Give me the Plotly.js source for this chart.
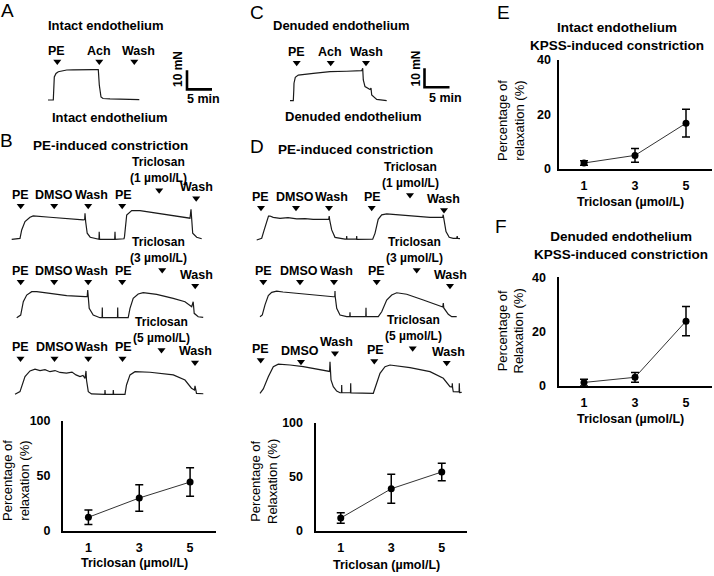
<!DOCTYPE html>
<html>
<head>
<meta charset="utf-8">
<script src="https://cdn.plot.ly/plotly-3.0.1.min.js"></script>
<style>
body { margin: 0; background: #fff; }
#fig { width: 714px; height: 576px; }
</style>
</head>
<body>
<div id="fig"></div>
<script>
'use strict';

// ---- data ----
// myograph recordings: time (min) and force (mN) relative to baseline
var aTime = [0, 0.9, 1.06, 1.26, 1.6, 2.06, 3.74, 5.0, 7.0, 9.0, 10.06, 10.26, 10.6, 11.0, 12.4, 15.4, 18.26];
var aForce = [0, 0, 0, 12.1, 14.0, 14.9, 15.8, 15.9, 16.1, 16.0, 16.0, 7.9, 1.6, 0.8, 0.6, 0.4, 0.2];
var aEvents = ['PE', 'Ach', 'Wash'];
var aEventTime = [1.86, 10.26, 17.26];

var cTime = [0, 0.66, 0.76, 0.8, 1.06, 1.66, 4.66, 6.4, 8.0, 11.34, 14.34, 14.54, 14.66, 15.0, 15.66, 16.0, 16.2, 16.34, 17.34, 19.34];
var cForce = [0, 0, 5.6, 9.2, 12.3, 13.5, 14.4, 14.8, 15.3, 15.5, 15.8, 17.1, 10.9, 7.4, 6.5, 5.9, 6.7, 3.0, 0.7, 0];
var cEvents = ['PE', 'Ach', 'Wash'];
var cEventTime = [1.34, 8.14, 15.2];

var b1Time = [0, 1.66, 2.0, 2.66, 3.66, 4.3, 7.66, 11.0, 14.3, 14.6, 14.66, 14.8, 15.1, 15.7, 17.0, 17.46, 17.5, 17.58, 20.6, 20.66, 20.72, 22.46, 22.56, 23.0, 24.0, 25.66, 31.0, 35.66, 35.86, 35.96, 36.2, 37.0, 38.0];
var b1Force = [0, 0.5, 4.9, 9.3, 11.6, 12.3, 11.6, 10.8, 10.2, 10.4, 13.7, 9.1, 3.2, 1.1, 0, 0, 4.0, 0, 0, 4.0, 0, 0.3, 1.4, 12.8, 15.1, 15.1, 12.8, 11.1, 15.8, 10.9, 3.2, 1.1, 0.3];
var b1EventTime = [1.8, 8.5, 15.3, 22.1, 29.5, 36.9];

var b2Time = [0, 0.8, 1.32, 2.0, 3.0, 4.0, 6.66, 10.0, 13.66, 14.1, 14.2, 14.3, 14.5, 15.3, 16.66, 17.08, 17.12, 17.16, 20.16, 20.2, 20.24, 22.3, 22.66, 23.3, 24.3, 25.3, 28.0, 31.3, 33.66, 35.0, 35.3, 35.5, 36.3, 37.3];
var b2Force = [0, 1.4, 8.4, 11.9, 13.7, 13.7, 12.8, 11.6, 11.1, 11.1, 14.6, 10.9, 4.9, 1.4, 0, 0, 5.3, 0, 0, 5.3, 0, 0, 4.9, 10.2, 12.5, 13.2, 12.3, 10.2, 8.4, 5.8, 8.4, 2.3, 0.5, 0.2];
var b2EventTime = [0.8, 7.5, 14.3, 21.1, 29.1, 35.7];

var b3Time = [0, 1.0, 2.0, 3.0, 4.0, 5.0, 6.0, 7.0, 8.0, 9.0, 10.3, 11.4, 12.2, 13.0, 13.6, 14.0, 14.2, 14.3, 14.66, 15.3, 17.96, 18.0, 18.06, 19.62, 19.66, 19.72, 22.0, 22.3, 23.0, 24.0, 27.0, 31.66, 34.0, 35.3, 35.9, 36.0, 36.3, 37.66];
var b3Force = [0, 1.4, 9.3, 12.3, 13.2, 12.5, 13.0, 11.9, 12.5, 11.5, 11.1, 11.7, 10.2, 9.3, 9.9, 8.4, 12.3, 7.5, 1.4, 0.2, 0, 2.3, 0, 0, 2.3, 0, 0, 4.9, 10.2, 11.9, 11.6, 10.2, 7.5, 3.2, 2.3, 4.4, 0.5, 0.3];
var b3EventTime = [1.1, 7.9, 14.66, 21.5, 29.3, 36.0];

var d1Time = [0, 1.0, 1.5, 2.1, 2.36, 2.66, 3.3, 4.66, 6.26, 8.0, 9.66, 11.3, 14.4, 14.5, 14.6, 15.0, 15.66, 17.66, 17.96, 18.0, 18.04, 19.96, 20.0, 20.04, 23.2, 23.66, 24.3, 25.0, 26.0, 30.66, 34.66, 37.2, 37.3, 37.4, 37.86, 38.5, 39.3, 40.0, 40.1, 40.2, 40.66];
var d1Force = [0, 0.9, 5.3, 10.9, 12.6, 12.6, 11.9, 11.4, 11.8, 11.1, 11.3, 10.9, 10.9, 12.6, 10.5, 5.3, 1.4, 0.5, 0.5, 2.1, 0.5, 0.5, 2.1, 0.3, 0.4, 3.5, 10.9, 13.2, 13.7, 12.6, 11.9, 11.9, 13.3, 11.6, 4.4, 1.4, 0.9, 0.9, 2.1, 0.8, 0.7];
var d1EventTime = [0.86, 7.86, 14.46, 23.0, 30.66, 37.46];

var d2Time = [0, 0.46, 1.0, 1.66, 2.34, 3.34, 4.6, 7.34, 11.34, 14.66, 14.96, 15.0, 15.04, 15.34, 16.0, 17.34, 17.96, 18.0, 18.04, 21.16, 21.2, 21.24, 23.66, 24.34, 25.34, 26.34, 27.34, 29.34, 32.66, 36.0, 36.56, 36.66, 36.76, 37.66, 38.34, 39.34];
var d2Force = [0, 0.9, 6.2, 11.1, 12.8, 13.5, 13.0, 12.3, 11.1, 10.5, 10.6, 13.5, 10.6, 4.4, 0.9, 0, 0, 2.3, 0, 0, 4.7, 0, 0, 2.6, 8.8, 11.4, 12.6, 11.8, 8.8, 5.3, 5.1, 7.2, 4.6, 1.3, 0, 0];
var d2EventTime = [0.66, 8.0, 14.8, 23.34, 31.34, 38.0];

var d3Time = [0, 0.66, 1.66, 2.66, 3.66, 6.0, 8.66, 11.34, 13.34, 13.92, 14.0, 14.1, 14.2, 14.66, 15.34, 16.0, 16.3, 16.34, 16.38, 18.1, 18.14, 18.18, 22.66, 23.14, 24.0, 25.0, 26.0, 30.0, 34.0, 36.66, 38.0, 38.42, 38.46, 38.52, 38.66, 39.82, 39.86, 39.92, 40.34];
var d3Force = [0, 2.3, 8.7, 14.0, 15.3, 14.9, 14.0, 12.6, 11.7, 11.5, 16.6, 11.2, 7.0, 3.5, 1.2, 0.3, 0.3, 4.4, 0.3, 0.3, 5.3, 0.2, 0, 3.5, 10.5, 14.0, 14.9, 13.5, 11.4, 7.9, 3.5, 3.3, 5.3, 2.8, 0.8, 0.7, 5.3, 0.4, 0.5];
var d3EventTime = [0.14, 8.2, 15.0, 22.86, 30.54, 37.34];

var scaleMin = 5;   // min
var scaleForce = 10; // mN

// relaxation summaries (mean, error) vs triclosan dose
var doses = [1, 3, 5];
var bRelax = [12.5, 30, 44.5];
var bErr = [6.5, 12, 13];
var dRelax = [12, 39, 54.5];
var dErr = [4.8, 13.4, 8];
var eRelax = [2.2, 5.0, 16.8];
var eErr = [0.8, 2.5, 5.1];
var fRelax = [1.2, 3.1, 23.8];
var fErr = [1.2, 1.8, 5.4];

function bdEvents(dose) {
  return ['PE', 'DMSO', 'Wash', 'PE', 'Triclosan<br>(' + dose + ' µmol/L)', 'Wash'];
}

// ---- layout helpers ----
var W = 714, H = 576;
var FONT = 'Liberation Sans, Arial, sans-serif';
var PX_PER_MIN = 5, PX_PER_MN = 1.9;

function px(x) { return x / W; }
function py(y) { return 1 - y / H; }
function axKey(letter, n) { return letter + 'axis' + (n === 1 ? '' : n); }
function axRef(letter, n) { return letter + (n === 1 ? '' : n); }

var data = [];
var annotations = [];
var layout = {
  width: W,
  height: H,
  margin: { l: 0, r: 0, t: 0, b: 0 },
  paper_bgcolor: '#fff',
  plot_bgcolor: 'rgba(0,0,0,0)',
  showlegend: false,
  font: { family: FONT, color: '#000' }
};

function addText(text, x, y, size, bold, angle) {
  annotations.push({
    xref: 'paper', yref: 'paper', x: px(x), y: py(y),
    xanchor: 'center', yanchor: 'middle', showarrow: false,
    text: text, textangle: angle || 0,
    font: { family: FONT, size: size, color: '#000', weight: bold ? 'bold' : 'normal' }
  });
}

// recording panels: origin pixel (x0, baseline y), arrowhead levels (mN) and label x shifts (px)
var panels = [
  { n: 1, x0: 48, yb: 100, t: aTime, f: aForce, ev: aEvents, et: aEventTime,
    lvl: [20.2, 20.2, 20.2], sh: [-0.6, -0.6, 4] },
  { n: 2, x0: 290, yb: 100.7, t: cTime, f: cForce, ev: cEvents, et: cEventTime,
    lvl: [20, 20, 20], sh: [0, -0.7, 0] },
  { n: 3, x0: 11.7, yb: 239.3, t: b1Time, f: b1Force, ev: bdEvents(doses[0]), et: b1EventTime,
    lvl: [17.7, 17.7, 17.7, 17.7, 25.8, 21.6], sh: [0, 0, 3.4, 1, -0.7, 0.7] },
  { n: 4, x0: 16.7, yb: 317.7, t: b2Time, f: b2Force, ev: bdEvents(doses[1]), et: b2EventTime,
    lvl: [18.9, 18.9, 18.9, 18.9, 25.1, 16.8], sh: [0, 0, 3.4, 1, -4, 1] },
  { n: 5, x0: 15, yb: 394.3, t: b3Time, f: b3Force, ev: bdEvents(doses[2]), et: b3EventTime,
    lvl: [18.9, 18.9, 18.9, 18.9, 23.3, 16.8], sh: [0, 0, 3.4, 1, 0, 0] },
  { n: 6, x0: 256.7, yb: 240, t: d1Time, f: d1Force, ev: bdEvents(doses[0]), et: d1EventTime,
    lvl: [17.0, 17.0, 17.0, 17.0, 23.7, 15.8], sh: [-1, -1, 2.5, 1, 0, -0.7] },
  { n: 7, x0: 260, yb: 316.7, t: d2Time, f: d2Force, ev: bdEvents(doses[1]), et: d2EventTime,
    lvl: [18.4, 18.4, 18.4, 18.4, 24.6, 16.3], sh: [0, -1, 2.5, 0, -2.5, 0] },
  { n: 8, x0: 260, yb: 393.3, t: d3Time, f: d3Force, ev: bdEvents(doses[2]), et: d3EventTime,
    lvl: [17.5, 16.6, 21.1, 17.0, 23.7, 16.1], sh: [0, -1, 1.5, 1.4, 0.6, 1.6] }
];

var T0 = -1, T1 = 42, F0 = -2, F1 = 30;

panels.forEach(function (p) {
  var xa = axRef('x', p.n), ya = axRef('y', p.n);
  layout[axKey('x', p.n)] = {
    domain: [px(p.x0 + T0 * PX_PER_MIN), px(p.x0 + T1 * PX_PER_MIN)],
    range: [T0, T1], visible: false, fixedrange: true, anchor: ya
  };
  layout[axKey('y', p.n)] = {
    domain: [py(p.yb - F0 * PX_PER_MN), py(p.yb - F1 * PX_PER_MN)],
    range: [F0, F1], visible: false, fixedrange: true, anchor: xa
  };

  data.push({
    x: p.t, y: p.f, xaxis: xa, yaxis: ya, type: 'scatter', mode: 'lines',
    line: { color: '#1a1a1a', width: 1.2 }, hoverinfo: 'skip'
  });

  data.push({
    x: p.et, y: p.lvl, xaxis: xa, yaxis: ya, type: 'scatter', mode: 'markers',
    marker: { symbol: 'triangle-down', size: 7, color: '#000' },
    cliponaxis: false, hoverinfo: 'skip'
  });

  p.ev.forEach(function (label, i) {
    var twoLines = label.indexOf('<br>') >= 0;
    annotations.push({
      xref: xa, yref: ya, x: p.et[i], y: p.lvl[i],
      xshift: p.sh[i], yshift: twoLines ? 3 : 11,
      xanchor: 'center', yanchor: twoLines ? 'bottom' : 'middle', showarrow: false, text: label,
      font: { family: FONT, size: twoLines ? 12 : 12.5, color: '#000', weight: 'bold' }
    });
  });
});

// scale bars in panels A and C
[[1, 27.8, 5.6], [2, 26.9, 7.05]].forEach(function (s) {
  data.push({
    x: [s[1], s[1], s[1] + scaleMin], y: [s[2] + scaleForce, s[2], s[2]],
    xaxis: axRef('x', s[0]), yaxis: axRef('y', s[0]), type: 'scatter', mode: 'lines',
    line: { color: '#000', width: 2.6 }, hoverinfo: 'skip'
  });
});
addText(scaleForce + ' mN', 178, 69, 12, true, -90);
addText(scaleMin + ' min', 203.5, 99, 12.5, true);
addText(scaleForce + ' mN', 415.5, 69, 12, true, -90);
addText(scaleMin + ' min', 445, 98.3, 12.5, true);

// summary charts
var charts = [
  { n: 9, x: [63, 215.5], y: [531, 421], mean: bRelax, err: bErr, ymax: 100, tv: [0, 50, 100],
    ylab: 'Percentage of<br>relaxation (%)', ylx: 16, yly: 481, xly: 563, stand: 8 },
  { n: 10, x: [315.5, 467], y: [531, 422.7], mean: dRelax, err: dErr, ymax: 100, tv: [0, 50, 100],
    ylab: 'Percentage of<br>Relaxation (%)', ylx: 263.5, yly: 481.5, xly: 565, stand: 8 },
  { n: 11, x: [558.5, 711.5], y: [169, 60], mean: eRelax, err: eErr, ymax: 40, tv: [0, 20, 40],
    ylab: 'Percentage of<br>relaxation (%)', ylx: 511, yly: 121, xly: 202, stand: 3 },
  { n: 12, x: [558.5, 711.5], y: [385.7, 277.3], mean: fRelax, err: fErr, ymax: 40, tv: [0, 20, 40],
    ylab: 'Percentage of<br>Relaxation (%)', ylx: 510.5, yly: 331, xly: 419.3, stand: 8 }
];

charts.forEach(function (c) {
  var xa = axRef('x', c.n), ya = axRef('y', c.n);
  var common = {
    showline: true, linecolor: '#000', linewidth: 2, ticks: '', showgrid: false,
    zeroline: false, fixedrange: true,
    tickfont: { family: FONT, size: 12.5, color: '#000', weight: 'bold' }
  };
  layout[axKey('x', c.n)] = Object.assign({}, common, {
    domain: [px(c.x[0]), px(c.x[1])], range: [0, 6], tickvals: doses,
    anchor: ya, ticklabelstandoff: 4
  });
  layout[axKey('y', c.n)] = Object.assign({}, common, {
    domain: [py(c.y[0]), py(c.y[1])], range: [0, c.ymax], tickvals: c.tv,
    anchor: xa, ticklabelstandoff: c.stand
  });
  data.push({
    x: doses, y: c.mean, xaxis: xa, yaxis: ya, type: 'scatter', mode: 'lines+markers',
    line: { color: '#333', width: 1 },
    marker: { symbol: 'circle', size: 7, color: '#000' },
    error_y: { type: 'data', array: c.err, visible: true, color: '#000', thickness: 1.5, width: 4 },
    cliponaxis: false, hoverinfo: 'skip'
  });
  addText(c.ylab, c.ylx, c.yly, 13, false, -90);
  addText('Triclosan (µmol/L)', (c.x[0] + c.x[1]) / 2 - 5, c.xly, 12.5, true);
});

// headings
addText('Intact endothelium', 106, 25, 13, true);
addText('Intact endothelium', 110, 117, 13, true);
addText('Denuded endothelium', 341.7, 25, 13, true);
addText('Denuded endothelium', 353.3, 116.7, 13, true);
addText('PE-induced constriction', 110, 145, 13.5, true);
addText('PE-induced constriction', 355, 149, 13.5, true);
addText('Intact endothelium<br>KPSS-induced constriction', 617, 36, 13.5, true);
addText('Denuded endothelium<br>KPSS-induced constriction', 621, 245, 13.5, true);

// panel letters
[['A', 7, 10], ['B', 6, 141], ['C', 257, 12], ['D', 257, 147], ['E', 503, 12], ['F', 501, 226]].forEach(function (l) {
  addText(l[0], l[1], l[2], 19, false);
});

layout.annotations = annotations;

Plotly.newPlot('fig', data, layout, { staticPlot: true, displayModeBar: false });
</script>
</body>
</html>
